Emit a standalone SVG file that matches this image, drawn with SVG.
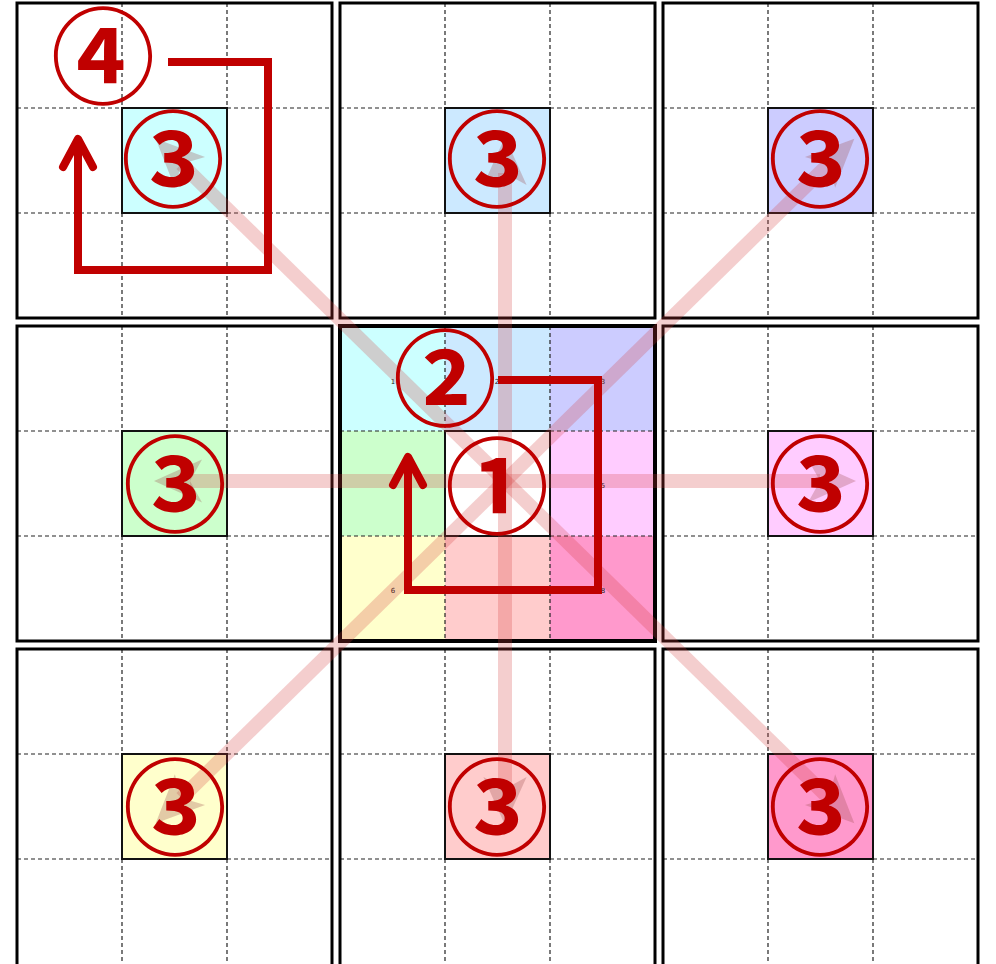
<svg xmlns="http://www.w3.org/2000/svg" width="996" height="964" viewBox="0 0 996 964">
<defs>
<style>
.blk{fill:none;stroke:#000;stroke-width:3}
.ctr{fill:none;stroke:#000;stroke-width:4}
.grid{stroke:#222;stroke-width:1.2;stroke-dasharray:4 3;fill:none}
.cell{stroke:#111;stroke-width:2}
.tiny{font-family:"DejaVu Sans",sans-serif;font-size:7px;fill:#222;text-anchor:middle}
.circ{font-family:"Noto Sans CJK JP",sans-serif;font-size:104px;font-weight:700;fill:#c00000;text-anchor:middle}
.ray{stroke:#d23c3c;stroke-opacity:0.25;stroke-width:14;fill:none}
.red{stroke:#c00000;stroke-width:8;fill:none;stroke-linejoin:miter}
.chev{stroke:#c00000;stroke-width:8;fill:none;stroke-linecap:round;stroke-linejoin:round}
</style>
<marker id="ah" markerUnits="userSpaceOnUse" markerWidth="60" markerHeight="60" viewBox="-5 -25 50 50" refX="10" refY="0" orient="auto" overflow="visible">
<path d="M0,-18 L40,0 L0,18 L10,0 Z" fill="#a05050" fill-opacity="0.3"/>
</marker>
</defs>
<rect width="996" height="964" fill="#fff"/>

<g id="block-tl">
<path class="grid" d="M122,3V318M227,3V318M17,108H332M17,213H332"/>
<rect x="122" y="108" width="105" height="105" fill="#ccffff" class="cell"/>
<rect x="17" y="3" width="315" height="315" class="blk"/>
<text class="tiny" x="175" y="163">1</text>
</g>
<g id="block-tm">
<path class="grid" d="M445,3V318M550,3V318M340,108H655M340,213H655"/>
<rect x="445" y="108" width="105" height="105" fill="#cce9ff" class="cell"/>
<rect x="340" y="3" width="315" height="315" class="blk"/>
<text class="tiny" x="497" y="163">2</text>
</g>
<g id="block-tr">
<path class="grid" d="M768,3V318M873,3V318M663,108H978M663,213H978"/>
<rect x="768" y="108" width="105" height="105" fill="#ccccff" class="cell"/>
<rect x="663" y="3" width="315" height="315" class="blk"/>
<text class="tiny" x="820" y="163">3</text>
</g>
<g id="block-ml">
<path class="grid" d="M122,326V641M227,326V641M17,431H332M17,536H332"/>
<rect x="122" y="431" width="105" height="105" fill="#ccffcc" class="cell"/>
<rect x="17" y="326" width="315" height="315" class="blk"/>
<text class="tiny" x="175" y="487">4</text>
</g>
<g id="block-center">
<rect x="340" y="326" width="105" height="105" fill="#ccffff"/>
<rect x="445" y="326" width="105" height="105" fill="#cce9ff"/>
<rect x="550" y="326" width="105" height="105" fill="#ccccff"/>
<rect x="340" y="431" width="105" height="105" fill="#ccffcc"/>
<rect x="445" y="431" width="105" height="105" fill="#ffffff"/>
<rect x="550" y="431" width="105" height="105" fill="#ffccff"/>
<rect x="340" y="536" width="105" height="105" fill="#ffffcc"/>
<rect x="445" y="536" width="105" height="105" fill="#ffcccc"/>
<rect x="550" y="536" width="105" height="105" fill="#ff99cc"/>
<path class="grid" d="M445,326V641M550,326V641M340,431H655M340,536H655"/>
<rect x="445" y="431" width="105" height="105" fill="none" class="cell"/>
<rect x="340" y="326" width="315" height="315" class="ctr"/>
<text class="tiny" x="393" y="384">1</text>
<text class="tiny" x="497" y="384">2</text>
<text class="tiny" x="603" y="384">3</text>
<text class="tiny" x="393" y="488">4</text>
<text class="tiny" x="603" y="488">5</text>
<text class="tiny" x="393" y="593">6</text>
<text class="tiny" x="497" y="593">7</text>
<text class="tiny" x="603" y="593">8</text>
</g>
<g id="block-mr">
<path class="grid" d="M768,326V641M873,326V641M663,431H978M663,536H978"/>
<rect x="768" y="431" width="105" height="105" fill="#ffccff" class="cell"/>
<rect x="663" y="326" width="315" height="315" class="blk"/>
<text class="tiny" x="820" y="487">5</text>
</g>
<g id="block-bl">
<path class="grid" d="M122,649V964M227,649V964M17,754H332M17,859H332"/>
<rect x="122" y="754" width="105" height="105" fill="#ffffcc" class="cell"/>
<rect x="17" y="649" width="315" height="318" class="blk"/>
<text class="tiny" x="175" y="810">6</text>
</g>
<g id="block-bm">
<path class="grid" d="M445,649V964M550,649V964M340,754H655M340,859H655"/>
<rect x="445" y="754" width="105" height="105" fill="#ffcccc" class="cell"/>
<rect x="340" y="649" width="315" height="318" class="blk"/>
<text class="tiny" x="497" y="810">7</text>
</g>
<g id="block-br">
<path class="grid" d="M768,649V964M873,649V964M663,754H978M663,859H978"/>
<rect x="768" y="754" width="105" height="105" fill="#ff99cc" class="cell"/>
<rect x="663" y="649" width="315" height="318" class="blk"/>
<text class="tiny" x="820" y="810">8</text>
</g>

<g id="connectors">
<line class="ray" x1="505" y1="481" x2="181.4" y2="164" marker-end="url(#ah)"/>
<line class="ray" x1="505" y1="481" x2="505" y2="173" marker-end="url(#ah)"/>
<line class="ray" x1="505" y1="481" x2="828.6" y2="164" marker-end="url(#ah)"/>
<line class="ray" x1="505" y1="481" x2="190" y2="481" marker-end="url(#ah)"/>
<line class="ray" x1="505" y1="481" x2="820" y2="481" marker-end="url(#ah)"/>
<line class="ray" x1="505" y1="481" x2="181.4" y2="798" marker-end="url(#ah)"/>
<line class="ray" x1="505" y1="481" x2="505" y2="789" marker-end="url(#ah)"/>
<line class="ray" x1="505" y1="481" x2="828.6" y2="798" marker-end="url(#ah)"/>
<path class="red" d="M498,380H598V590H408V462"/>
<path class="chev" d="M393,485L408,457L423,485"/>
<path class="red" d="M168,62H268V270H78V142"/>
<path class="chev" d="M63,167L78,139L93,167"/>
</g>

<g id="labels">
<text class="circ" x="497" y="526">①</text>
<text class="circ" x="445" y="418">②</text>
<text class="circ" x="103" y="96">④</text>
<text class="circ" x="173" y="199">③</text>
<text class="circ" x="497" y="199">③</text>
<text class="circ" x="820" y="199">③</text>
<text class="circ" x="175" y="524">③</text>
<text class="circ" x="820" y="524">③</text>
<text class="circ" x="175" y="847">③</text>
<text class="circ" x="497" y="847">③</text>
<text class="circ" x="820" y="847">③</text>
</g>
</svg>
